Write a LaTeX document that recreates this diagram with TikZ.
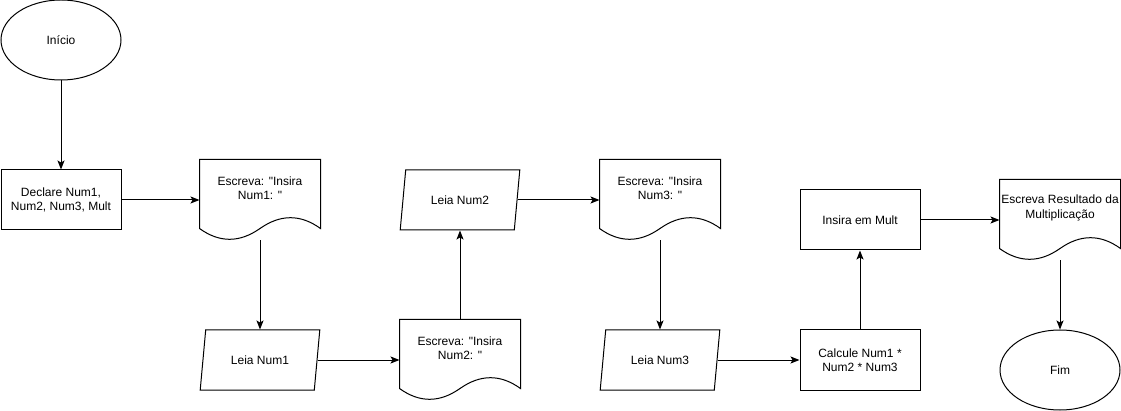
\documentclass[tikz,border=0pt]{standalone}
\usepackage{fontspec}
\setmainfont{Liberation Sans}
\usetikzlibrary{shapes.geometric,arrows.meta}

\tikzset{
  every node/.style={font=\fontsize{12}{14.5}\selectfont, align=center, inner sep=0pt},
  terminal/.style={draw, ellipse, minimum width=120pt, minimum height=80pt},
  procbox/.style={draw, rectangle, minimum width=120pt, minimum height=60pt},
  iobox/.style={draw, trapezium, trapezium left angle=71.57, trapezium right angle=108.43,
    trapezium stretches=true, minimum width=120pt, minimum height=60pt},
  docbox/.style={rectangle, minimum width=120pt, minimum height=80pt},
  doctext/.style={align=center, yshift=12pt},
  flow/.style={-{Stealth[length=9pt,width=7pt,inset=2pt]}},
}

% outline of a document shape with wavy bottom
\newcommand{\docshape}[1]{%
  \draw (#1.north west) -- (#1.north east) -- ([yshift=12pt]#1.south east)
    .. controls ([xshift=-20pt,yshift=26.4pt]#1.south east) and ([xshift=-40pt,yshift=26.4pt]#1.south east)
    .. ([yshift=12pt]#1.south)
    .. controls ([xshift=40pt,yshift=-2.4pt]#1.south west) and ([xshift=20pt,yshift=-2.4pt]#1.south west)
    .. ([yshift=12pt]#1.south west) -- cycle;}

\begin{document}
\begin{tikzpicture}[x=1pt,y=-1pt,line width=1pt]
  \useasboundingbox (0,0) rectangle (1121,411);

  % first column
  \node[terminal] (start) at (61,40) {Início};
  \node[procbox] (decl) at (61,200) {Declare Num1,\\Num2, Num3, Mult};

  % reading the numbers
  \node[docbox, label={[doctext]center:{Escreva: \textquotedbl Insira\\Num1: \textquotedbl}}] (out1) at (260,200) {};
  \node[iobox] (in1) at (260,360) {Leia Num1};
  \node[docbox, label={[doctext]center:{Escreva: \textquotedbl Insira\\Num2: \textquotedbl}}] (out2) at (460,360) {};
  \node[iobox] (in2) at (460,200) {Leia Num2};
  \node[docbox, label={[doctext]center:{Escreva: \textquotedbl Insira\\Num3: \textquotedbl}}] (out3) at (660,200) {};
  \node[iobox] (in3) at (660,360) {Leia Num3};

  % result
  \node[procbox] (calc) at (860,360) {Calcule Num1 *\\Num2 * Num3};
  \node[procbox] (mult) at (860,220) {Insira em Mult};
  \node[docbox, label={[doctext]center:{Escreva Resultado da\\Multiplicação}}] (out4) at (1060,220) {};
  \node[terminal] (stop) at (1060,370) {Fim};

  \docshape{out1}
  \docshape{out2}
  \docshape{out3}
  \docshape{out4}

  % Draw the arrows
  \draw[flow] (start) -- (decl);
  \draw[flow] (decl) -- (out1);
  \draw[flow] (out1) -- (in1);
  \draw[flow] (in1) -- (out2);
  \draw[flow] (out2) -- (in2);
  \draw[flow] (in2) -- (out3);
  \draw[flow] (out3) -- (in3);
  \draw[flow] (in3) -- (calc);
  \draw[flow] (calc) -- (mult);
  \draw[flow] (mult) -- (out4);
  \draw[flow] (out4) -- (stop);

\end{tikzpicture}
\end{document}
